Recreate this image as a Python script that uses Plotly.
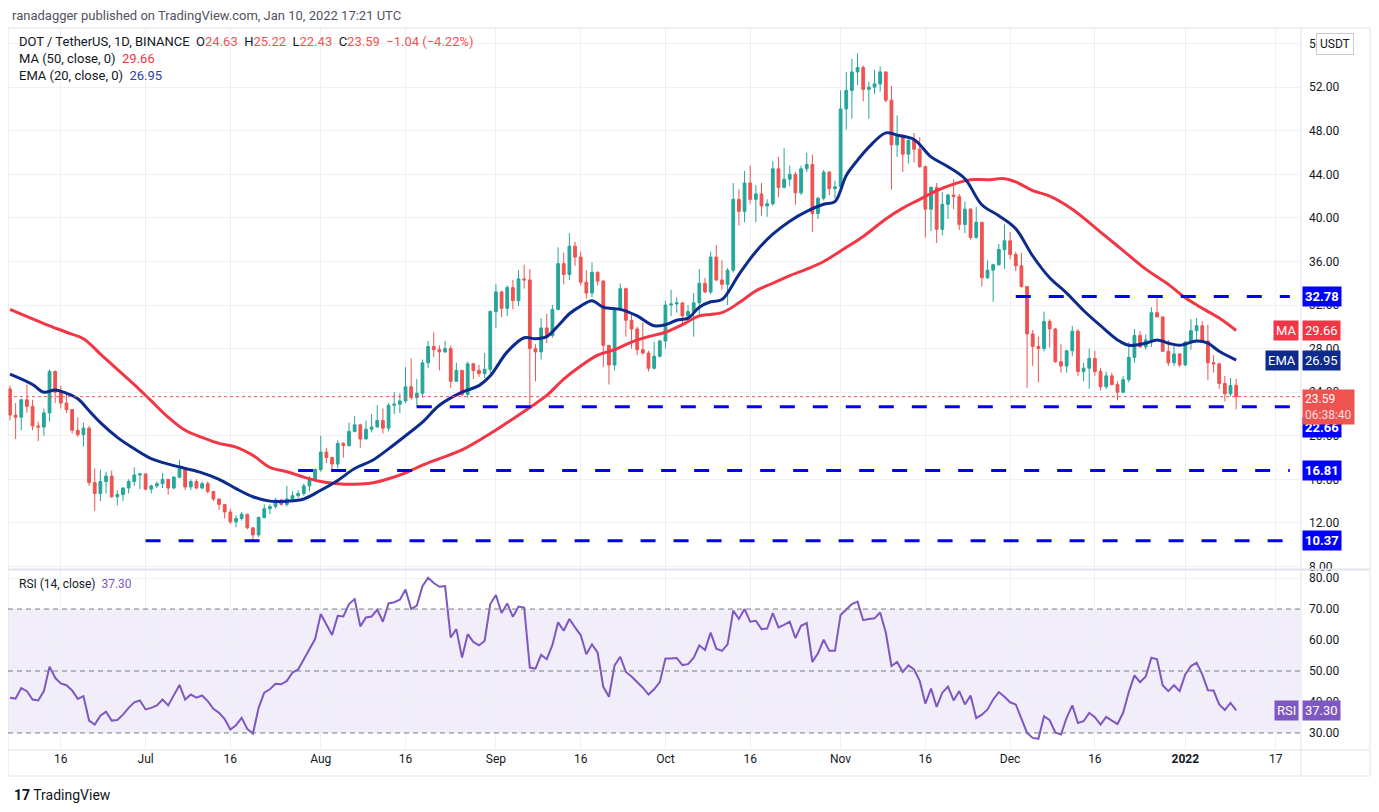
import pandas as pd
import plotly.graph_objects as go
from plotly.subplots import make_subplots

# DOT/USDT daily candles, 2021-06-07 .. 2022-01-10
start = pd.Timestamp("2021-06-07")

opens = [
    24.3, 21.9, 21.7, 23.3, 22.7, 20.9, 20.8, 22.1, 25.9, 24.0,
    23.0, 22.4, 20.5, 20.1, 20.7, 15.7, 14.7, 15.8, 16.3, 14.4,
    14.6, 15.2, 15.8, 16.4, 16.5, 15.1, 15.4, 15.6, 16.0, 15.2,
    16.2, 16.95, 15.3, 15.8, 15.2, 15.6, 14.9, 14.2, 13.7, 13.0,
    12.1, 12.4, 12.8, 11.55, 10.9, 12.5, 13.3, 13.5, 14.1, 13.7,
    14.2, 14.5, 14.7, 15.4, 15.9, 16.9, 18.5, 18.0, 17.4, 19.3,
    19.1, 20.4, 21.0, 19.7, 20.6, 20.8, 21.4, 20.7, 22.8, 22.9,
    23.2, 24.5, 23.5, 23.9, 26.7, 28.2, 27.9, 27.7, 28.0, 25.0,
    26.0, 23.8, 26.6, 26.0, 25.7, 26.1, 31.4, 33.2, 31.7, 33.6,
    32.4, 34.4, 34.3, 28.0, 27.7, 29.9, 29.2, 31.6, 35.8, 34.8,
    37.4, 36.4, 34.1, 33.1, 35.0, 34.2, 28.3, 26.5, 31.7, 33.5,
    30.6, 29.8, 27.9, 27.6, 26.2, 27.3, 28.7, 32.0, 32.1, 32.2,
    31.0, 31.4, 32.2, 34.0, 33.2, 36.4, 34.3, 33.9, 35.2, 41.7,
    40.6, 43.2, 41.7, 42.2, 41.1, 41.3, 44.5, 42.8, 43.55, 44.0,
    42.3, 44.5, 44.9, 40.4, 41.8, 44.2, 42.7, 42.85, 50.0, 51.7,
    53.4, 53.8, 51.8, 52.0, 52.3, 53.4, 50.8, 46.7, 47.5, 45.85,
    47.1, 46.3, 44.7, 40.8, 42.8, 38.95, 41.25, 42.1, 41.95, 39.4,
    40.8, 38.2, 39.6, 34.5, 35.2, 35.7, 37.1, 37.9, 36.65, 35.6,
    33.7, 29.35, 28.2, 28.0, 30.5, 29.8, 26.8, 26.4, 27.8, 29.6,
    25.9, 26.2, 27.1, 25.9, 24.5, 25.5, 24.7, 24.0, 25.15, 27.2,
    29.2, 28.15, 28.8, 31.3, 30.9, 27.75, 26.7, 27.5, 26.5, 28.6,
    29.65, 30.1, 28.7, 26.7, 26.6, 24.8, 23.85, 24.63,
]
highs = [
    24.6, 23.0, 23.4, 24.7, 23.3, 21.3, 22.5, 26.1, 26.0, 24.6,
    24.0, 22.4, 21.7, 21.2, 20.9, 17.0, 16.9, 16.7, 16.8, 15.0,
    15.3, 16.0, 17.1, 16.6, 16.5, 15.5, 15.8, 16.6, 16.0, 16.3,
    17.8, 17.0, 16.0, 16.0, 15.8, 15.8, 14.9, 14.2, 13.7, 13.3,
    12.7, 13.0, 12.8, 11.6, 12.6, 13.7, 13.7, 14.3, 14.2, 15.4,
    14.9, 15.0, 15.6, 16.3, 17.0, 20.0, 18.9, 18.0, 19.6, 19.4,
    21.2, 21.8, 21.1, 21.4, 22.0, 22.8, 22.5, 23.0, 24.0, 23.9,
    26.3, 27.1, 25.2, 27.0, 28.7, 29.5, 28.3, 28.7, 28.3, 26.7,
    26.0, 26.8, 26.7, 26.5, 27.6, 31.5, 33.9, 33.3, 33.8, 34.3,
    35.2, 35.7, 35.3, 28.4, 30.8, 31.2, 32.0, 37.3, 36.8, 38.6,
    37.8, 36.9, 35.2, 35.9, 35.1, 34.3, 28.3, 31.8, 34.0, 33.6,
    31.3, 30.0, 30.4, 27.8, 28.6, 28.8, 32.4, 33.4, 32.7, 32.2,
    32.0, 33.1, 35.3, 34.5, 36.9, 37.5, 36.1, 35.4, 43.2, 42.6,
    44.3, 44.8, 43.0, 43.2, 41.7, 45.2, 45.6, 46.4, 44.8, 44.2,
    44.8, 46.0, 45.8, 41.9, 44.4, 44.3, 43.4, 51.7, 53.4, 54.6,
    55.1, 54.0, 52.5, 53.6, 53.9, 53.4, 52.1, 49.4, 47.7, 47.5,
    47.8, 47.4, 44.8, 42.9, 43.2, 42.4, 42.2, 43.55, 42.2, 41.5,
    40.9, 41.0, 39.6, 36.1, 35.8, 37.6, 39.4, 38.7, 36.9, 36.8,
    33.7, 29.7, 29.1, 31.4, 30.7, 29.9, 28.4, 27.9, 30.1, 29.8,
    26.7, 28.0, 27.8, 26.2, 25.9, 25.8, 25.0, 25.5, 28.6, 29.8,
    29.6, 29.3, 31.8, 32.8, 31.0, 28.8, 28.2, 27.6, 28.7, 30.7,
    30.8, 30.5, 30.2, 27.4, 26.7, 25.5, 25.3, 25.22,
]
lows = [
    21.4, 19.7, 20.5, 22.1, 20.5, 19.5, 20.0, 21.3, 23.0, 22.5,
    22.1, 20.2, 19.9, 19.0, 15.4, 13.1, 14.0, 14.7, 14.3, 13.6,
    14.0, 14.7, 15.4, 15.1, 15.0, 14.7, 15.2, 15.2, 14.6, 15.1,
    16.1, 15.0, 15.0, 15.1, 15.1, 14.7, 14.0, 13.2, 12.4, 11.9,
    11.6, 12.2, 11.4, 10.4, 10.7, 12.4, 12.8, 13.3, 13.6, 13.5,
    13.9, 14.3, 14.5, 14.9, 15.8, 16.7, 17.5, 16.9, 17.0, 18.0,
    19.0, 20.3, 18.9, 19.9, 20.3, 21.0, 20.2, 20.4, 22.0, 22.1,
    23.0, 23.3, 22.6, 23.5, 26.2, 27.2, 26.0, 27.6, 24.4, 25.0,
    23.6, 23.5, 25.2, 25.4, 25.3, 25.7, 29.9, 30.9, 31.0, 31.6,
    31.9, 33.5, 22.5, 25.0, 27.0, 28.5, 29.0, 31.5, 33.9, 34.3,
    35.6, 33.8, 32.6, 32.7, 33.8, 26.3, 24.7, 26.0, 31.5, 29.1,
    28.0, 27.4, 27.4, 25.9, 26.1, 27.2, 28.0, 31.0, 31.3, 30.1,
    30.5, 29.1, 31.0, 33.1, 33.0, 34.2, 33.4, 32.0, 35.0, 39.3,
    39.6, 41.3, 39.6, 40.2, 40.1, 41.1, 41.9, 42.7, 42.9, 41.2,
    42.1, 44.2, 38.7, 39.9, 41.6, 42.1, 41.8, 42.6, 48.1, 49.1,
    52.2, 50.7, 49.1, 51.4, 51.6, 50.6, 42.6, 45.6, 44.2, 45.0,
    45.1, 44.6, 38.2, 38.8, 37.7, 38.4, 39.9, 40.8, 38.9, 38.6,
    38.0, 38.1, 33.7, 34.4, 32.3, 35.6, 35.3, 36.2, 35.1, 33.6,
    24.4, 26.4, 24.9, 27.75, 28.1, 26.7, 25.8, 25.8, 27.3, 25.5,
    25.0, 24.3, 25.5, 24.15, 24.3, 24.6, 23.25, 23.9, 24.9, 26.7,
    28.1, 27.9, 28.15, 30.9, 27.75, 26.4, 26.4, 26.3, 26.4, 27.9,
    28.8, 28.6, 25.1, 25.8, 24.3, 23.15, 23.6, 22.43,
]
closes = [
    21.9, 21.7, 23.3, 22.7, 20.9, 20.8, 22.1, 25.9, 24.0, 23.0,
    22.4, 20.5, 20.1, 20.7, 15.7, 14.7, 15.8, 16.3, 14.4, 14.6,
    15.2, 15.8, 16.4, 16.5, 15.1, 15.4, 15.6, 16.0, 15.2, 16.2,
    16.95, 15.3, 15.8, 15.2, 15.6, 14.9, 14.2, 13.7, 13.0, 12.1,
    12.4, 12.8, 11.55, 10.9, 12.5, 13.3, 13.5, 14.1, 13.7, 14.2,
    14.5, 14.7, 15.4, 15.9, 16.9, 18.5, 18.0, 17.4, 19.3, 19.1,
    20.4, 21.0, 19.7, 20.6, 20.8, 21.4, 20.7, 22.8, 22.9, 23.2,
    24.5, 23.5, 23.9, 26.7, 28.2, 27.9, 27.7, 28.0, 25.0, 26.0,
    23.8, 26.6, 26.0, 25.7, 26.1, 31.4, 33.2, 31.7, 33.6, 32.4,
    34.4, 34.3, 28.0, 27.7, 29.9, 29.2, 31.6, 35.8, 34.8, 37.4,
    36.4, 34.1, 33.1, 35.0, 34.2, 28.3, 26.5, 31.7, 33.5, 30.6,
    29.8, 27.9, 27.6, 26.2, 27.3, 28.7, 32.0, 32.1, 32.2, 31.0,
    31.4, 32.2, 34.0, 33.2, 36.4, 34.3, 33.9, 35.2, 41.7, 40.6,
    43.2, 41.7, 42.2, 41.1, 41.3, 44.5, 42.8, 43.55, 44.0, 42.3,
    44.5, 44.9, 40.4, 41.8, 44.2, 42.7, 42.85, 50.0, 51.7, 53.4,
    53.8, 51.8, 52.0, 52.3, 53.4, 50.8, 46.7, 47.5, 45.85, 47.1,
    46.3, 44.7, 40.8, 42.8, 38.95, 41.25, 42.1, 41.95, 39.4, 40.8,
    38.2, 39.6, 34.5, 35.2, 35.7, 37.1, 37.9, 36.65, 35.6, 33.7,
    29.35, 28.2, 28.0, 30.5, 29.8, 26.8, 26.4, 27.8, 29.6, 25.9,
    26.2, 27.1, 25.9, 24.5, 25.5, 24.7, 24.0, 25.15, 27.2, 29.2,
    28.15, 28.8, 31.3, 30.9, 27.75, 26.7, 27.5, 26.5, 28.6, 29.65,
    30.1, 28.7, 26.7, 26.6, 24.8, 23.85, 24.6, 23.59,
]
rsi = [
    41.4, 41.1, 44.5, 43.5, 40.8, 40.5, 43.5, 51.4, 47.8, 46.0,
    45.4, 43.7, 41.0, 41.9, 34.0, 32.7, 35.6, 36.9, 34.0, 34.2,
    35.9, 38.1, 39.9, 40.5, 37.6, 38.1, 38.9, 40.8, 38.9, 42.4,
    45.5, 40.8, 42.4, 41.4, 42.1, 40.3, 37.8, 36.5, 34.5, 31.1,
    32.5, 34.9, 31.3, 29.8, 38.1, 43.0, 44.1, 45.9, 45.7, 46.8,
    49.5, 50.5, 53.8, 57.0, 60.3, 68.4, 65.0, 61.6, 67.8, 67.6,
    71.6, 73.2, 64.4, 67.3, 67.6, 69.8, 65.9, 71.8, 72.2, 73.0,
    76.3, 70.0, 71.1, 77.4, 80.1, 78.4, 77.2, 77.4, 60.8, 63.5,
    54.3, 61.9, 59.4, 58.3, 59.7, 71.6, 74.5, 68.7, 71.8, 67.5,
    70.8, 70.5, 51.1, 50.8, 55.2, 53.8, 58.4, 65.7, 63.0, 66.8,
    64.1, 61.6, 55.4, 58.6, 55.9, 44.9, 41.7, 51.8, 54.6, 49.7,
    48.2, 46.4, 44.6, 42.4, 44.1, 46.4, 54.0, 54.0, 54.2, 51.9,
    52.2, 54.3, 58.3, 56.8, 62.4, 57.2, 56.5, 58.6, 69.5, 66.8,
    70.0, 65.9, 66.2, 63.5, 63.7, 68.7, 64.1, 64.9, 65.9, 60.6,
    64.6, 65.5, 52.9, 55.7, 60.1, 56.5, 56.5, 68.1, 70.0, 71.6,
    72.4, 66.4, 66.8, 67.0, 68.9, 62.4, 51.6, 52.9, 49.7, 51.8,
    50.5, 46.8, 39.5, 44.3, 38.4, 43.0, 45.0, 40.5, 43.5, 39.2,
    42.1, 34.8, 35.9, 37.6, 40.8, 43.2, 41.7, 39.9, 39.2, 34.9,
    30.0, 28.4, 28.1, 35.4, 34.1, 30.2, 29.5, 34.9, 38.9, 33.2,
    33.8, 36.5, 35.1, 32.7, 35.2, 34.0, 32.9, 36.5, 43.2, 48.6,
    46.4, 48.2, 54.3, 53.8, 45.4, 43.5, 45.4, 43.5, 48.9, 51.6,
    52.7, 48.9, 43.8, 43.7, 39.2, 37.4, 39.7, 37.3,
]

# moving averages, read at sample days (offset from start)
ma_days = [0, 6, 10, 13, 16, 19, 22, 25, 28, 31, 34, 37, 40, 43, 46, 49, 52, 55, 58, 61,
           64, 67, 70, 73, 76, 80, 85, 89, 92, 95, 98, 101, 104, 107, 110, 113, 116, 119,
           122, 126, 129, 132, 135, 138, 141, 144, 148, 151, 155, 158, 161, 164, 167, 170,
           173, 176, 178, 181, 184, 188, 193, 197, 201, 205, 208, 211, 214, 217]
ma_vals = [31.6, 30.3, 29.5, 28.9, 27.5, 26.1, 24.7, 23.2, 21.7, 20.5, 19.85, 19.3, 18.96,
           18.2, 17.1, 16.7, 16.2, 15.8, 15.6, 15.55, 15.66, 16.06, 16.6, 17.3, 17.9, 18.7,
           20.2, 21.55, 22.6, 23.7, 25.2, 26.4, 27.4, 27.9, 28.6, 29.1, 29.5, 30.2, 31.0,
           31.3, 32.2, 33.3, 34.0, 34.7, 35.3, 36.0, 37.3, 38.3, 39.9, 40.9, 41.7, 42.5,
           43.1, 43.5, 43.5, 43.6, 43.3, 42.5, 42.0, 40.8, 38.7, 37.0, 35.3, 33.9, 32.66,
           31.7, 30.8, 29.66]
ema_days = [0, 4, 6, 8, 10, 12, 14, 16, 19, 22, 25, 28, 31, 34, 37, 40, 43, 46, 49, 52, 55,
            58, 61, 64, 67, 70, 73, 76, 80, 83, 85, 88, 91, 93, 95, 97, 99, 101, 103, 105,
            108, 111, 114, 116, 118, 120, 122, 124, 126, 129, 132, 135, 138, 141, 144, 146,
            148, 150, 152, 155, 157, 160, 163, 166, 169, 172, 175, 178, 181, 184, 187, 190,
            193, 196, 198, 201, 203, 205, 207, 210, 212, 214, 217]
ema_vals = [25.65, 24.7, 24.0, 24.2, 23.9, 23.4, 22.3, 21.2, 19.85, 18.8, 17.9, 17.4, 17.0,
            16.6, 16.0, 15.15, 14.4, 14.0, 14.0, 14.2, 15.0, 15.9, 17.0, 17.7, 18.8, 20.0,
            21.25, 22.8, 24.0, 24.6, 25.5, 27.7, 29.0, 28.9, 29.1, 30.1, 31.2, 31.9, 32.4,
            31.8, 31.6, 31.0, 30.1, 30.2, 30.6, 30.8, 31.8, 32.3, 32.5, 34.8, 36.9, 38.5,
            39.7, 40.6, 41.25, 41.5, 43.9, 45.3, 46.5, 47.8, 47.6, 47.2, 45.6, 44.7, 43.6,
            41.2, 40.2, 39.0, 36.5, 34.5, 33.1, 31.5, 30.1, 28.8, 28.3, 28.5, 28.8, 28.5,
            28.3, 28.7, 28.5, 27.75, 26.95]

# horizontal support / resistance levels and the day each one starts
levels = [32.78, 22.66, 16.81, 10.37]
level_start = [178, 72, 51, 24]
level_end = 226.5
last_price = 23.59

tick_dates = ["2021-06-16", "2021-07-01", "2021-07-16", "2021-08-01", "2021-08-16",
              "2021-09-01", "2021-09-16", "2021-10-01", "2021-10-16", "2021-11-01",
              "2021-11-16", "2021-12-01", "2021-12-16", "2022-01-01", "2022-01-17"]
tick_text = ["16", "Jul", "16", "Aug", "16", "Sep", "16", "Oct", "16", "Nov", "16", "Dec",
             "16", "<b>2022</b>", "17"]

dates = pd.date_range(start, periods=len(closes), freq="D")
ma_x = [start + pd.Timedelta(days=d) for d in ma_days]
ema_x = [start + pd.Timedelta(days=d) for d in ema_days]
ticks = pd.to_datetime(tick_dates)

# page has an 8px body margin; plot area spans page x 8..1300, y 28..750
W, H = 1371, 804
ML, MR, MT, MB = 0, 79, 20, 62
PW, PH = W - ML - MR, H - MT - MB


def pxx(px):
    # page pixel x -> paper x
    return (px - 8) / PW


def pxy(py):
    # page pixel y -> paper y
    return (750 - py) / PH


GREEN = "#26a69a"
RED = "#ef5350"
MA_COL = "#f23645"
EMA_COL = "#0d2b8c"
RSI_COL = "#7e57c2"
LEVEL_COL = "#0000ff"
GRID = "#eef0f5"
BORDER = "#e0e3eb"
TXT = "#131722"
FONT = "Roboto"

fig = make_subplots(rows=2, cols=1, shared_xaxes=True)

fig.add_trace(go.Candlestick(
    x=dates, open=opens, high=highs, low=lows, close=closes,
    increasing=dict(line=dict(color=GREEN, width=1), fillcolor=GREEN),
    decreasing=dict(line=dict(color=RED, width=1), fillcolor=RED),
    whiskerwidth=0, showlegend=False, hoverinfo="skip"
), row=1, col=1)
fig.add_trace(go.Scatter(x=ma_x, y=ma_vals, mode="lines", line=dict(color=MA_COL, width=3, shape="spline"),
                         showlegend=False, hoverinfo="skip"), row=1, col=1)
fig.add_trace(go.Scatter(x=ema_x, y=ema_vals, mode="lines", line=dict(color=EMA_COL, width=3, shape="spline"),
                         showlegend=False, hoverinfo="skip"), row=1, col=1)
fig.add_trace(go.Scatter(x=dates, y=rsi, mode="lines", line=dict(color=RSI_COL, width=2),
                         showlegend=False, hoverinfo="skip"), row=2, col=1)

x_range = [start - pd.Timedelta(days=0.35), start + pd.Timedelta(days=228.3)]
xaxis_common = dict(range=x_range, tickvals=ticks, ticktext=tick_text, showgrid=True,
                    gridcolor=GRID, zeroline=False, showline=False, ticks="")
fig.update_layout(
    xaxis=dict(**xaxis_common, showticklabels=False, rangeslider=dict(visible=False)),
    xaxis2=dict(**xaxis_common, showticklabels=True, tickfont=dict(size=12, color=TXT, family=FONT)),
    yaxis=dict(domain=[pxy(569), 1], range=[7.77, 57.43], side="right", tickvals=list(range(8, 57, 4)),
               tickformat=".2f", showgrid=True, gridcolor=GRID, zeroline=False, ticks="",
               ticklabelstandoff=8, tickfont=dict(size=12, color=TXT, family=FONT)),
    yaxis2=dict(domain=[0, pxy(570)], range=[24.5, 82.6], side="right", tickvals=[30, 40, 50, 60, 70, 80],
                tickformat=".2f", showgrid=True, gridcolor=GRID, zeroline=False, ticks="",
                ticklabelstandoff=8, tickfont=dict(size=12, color=TXT, family=FONT)),
    width=W, height=H, margin=dict(l=ML, r=MR, t=MT, b=MB),
    paper_bgcolor="white", plot_bgcolor="white", showlegend=False,
    font=dict(family=FONT, color=TXT),
)

shapes = []
# frame and separators
shapes.append(dict(type="rect", xref="paper", yref="paper", x0=0, x1=pxx(1370), y0=pxy(776), y1=1,
                   line=dict(color=BORDER, width=1)))
shapes.append(dict(type="line", xref="paper", yref="paper", x0=pxx(1301), x1=pxx(1301), y0=pxy(776), y1=1,
                   line=dict(color=BORDER, width=1)))
shapes.append(dict(type="line", xref="paper", yref="paper", x0=0, x1=pxx(1370), y0=pxy(569.5), y1=pxy(569.5),
                   line=dict(color=BORDER, width=2)))
shapes.append(dict(type="line", xref="paper", yref="paper", x0=0, x1=pxx(1370), y0=0, y1=0,
                   line=dict(color=BORDER, width=1)))
# RSI band
shapes.append(dict(type="rect", xref="x2 domain", yref="y2", x0=0, x1=1, y0=30, y1=70,
                   fillcolor="rgba(126,87,194,0.1)", line=dict(width=0), layer="below"))
for lv in [70, 50, 30]:
    shapes.append(dict(type="line", xref="x2 domain", yref="y2", x0=0, x1=1, y0=lv, y1=lv,
                       line=dict(color="#787b86", width=1, dash="5px,4px")))
# last price dotted line
shapes.append(dict(type="line", xref="x domain", yref="y", x0=0, x1=1, y0=last_price, y1=last_price,
                   line=dict(color=RED, width=1, dash="dot")))
# support / resistance levels
for lv, d0 in zip(levels, level_start):
    shapes.append(dict(type="line", xref="x", yref="y",
                       x0=start + pd.Timedelta(days=d0), x1=start + pd.Timedelta(days=level_end),
                       y0=lv, y1=lv, line=dict(color=LEVEL_COL, width=3, dash="15px,18px")))
fig.update_layout(shapes=shapes)

ann = []
red = lambda s: f'<span style="color:{RED}">{s}</span>'
ann.append(dict(xref="paper", yref="paper", x=pxx(10), y=pxy(15), xanchor="left", yanchor="middle",
                text="ranadagger published on TradingView.com, Jan 10, 2022 17:21 UTC",
                showarrow=False, font=dict(size=13, color="#50535e", family=FONT)))
ann.append(dict(xref="paper", yref="paper", x=pxx(17), y=pxy(41), xanchor="left", yanchor="middle",
                text="DOT / TetherUS, 1D, BINANCE  O" + red("24.63") + "  H" + red("25.22") + "  L" + red("22.43")
                     + "  C" + red("23.59") + "  " + red("−1.04 (−4.22%)"),
                showarrow=False, font=dict(size=13, color=TXT, family=FONT)))
ann.append(dict(xref="paper", yref="paper", x=pxx(17), y=pxy(58), xanchor="left", yanchor="middle",
                text=f'MA (50, close, 0)  <span style="color:{MA_COL}">29.66</span>',
                showarrow=False, font=dict(size=13, color=TXT, family=FONT)))
ann.append(dict(xref="paper", yref="paper", x=pxx(17), y=pxy(75), xanchor="left", yanchor="middle",
                text='EMA (20, close, 0)  <span style="color:#2a3fad">26.95</span>',
                showarrow=False, font=dict(size=13, color=TXT, family=FONT)))
ann.append(dict(xref="paper", yref="paper", x=pxx(17), y=pxy(584), xanchor="left", yanchor="middle",
                text=f'RSI (14, close)  <span style="color:{RSI_COL}">37.30</span>',
                showarrow=False, font=dict(size=12, color=TXT, family=FONT)))
ann.append(dict(xref="paper", yref="paper", x=pxx(12), y=pxy(795), xanchor="left", yanchor="middle",
                text='<b>17</b> TradingView', showarrow=False,
                font=dict(size=14, color=TXT, family=FONT)))
ann.append(dict(xref="paper", yref="paper", x=pxx(1335), y=pxy(44), xanchor="center", yanchor="middle",
                text="USDT", showarrow=False, bgcolor="white", bordercolor="#c9cbd1", borderwidth=1,
                borderpad=3, font=dict(size=12, color=TXT, family=FONT)))


def price_box(y, text, color, yref="y", yshift=0):
    return dict(xref="paper", yref=yref, x=pxx(1302), y=y, xanchor="left", yanchor="middle",
                text=text, showarrow=False, bgcolor=color, borderpad=2, yshift=yshift,
                font=dict(size=13, color="white", family=FONT))


def name_box(y, text, color, yref="y"):
    return dict(xref="paper", yref=yref, x=pxx(1299), y=y, xanchor="right", yanchor="middle",
                text=text, showarrow=False, bgcolor=color, borderpad=2,
                font=dict(size=13, color="white", family=FONT))


ann.append(price_box(32.78, "<b>32.78</b>", LEVEL_COL))
ann.append(price_box(22.66, "<b>22.66</b>", LEVEL_COL, yshift=-21))
ann.append(price_box(16.81, "<b>16.81</b>", LEVEL_COL))
ann.append(price_box(10.37, "<b>10.37</b>", LEVEL_COL))
ann.append(price_box(29.66, "29.66", MA_COL))
ann.append(name_box(29.66, "MA", MA_COL))
ann.append(price_box(26.95, "26.95", "#0d2b8c"))
ann.append(name_box(26.95, "EMA", "#0d2b8c"))
ann.append(dict(xref="paper", yref="y", x=pxx(1302), y=last_price, xanchor="left", yanchor="top", yshift=8,
                text='23.59<br><span style="color:#fcdede">06:38:40</span>', showarrow=False,
                bgcolor=RED, borderpad=2, align="left", font=dict(size=12, color="white", family=FONT)))
ann.append(price_box(37.30, "37.30", RSI_COL, yref="y2"))
ann.append(name_box(37.30, "RSI", RSI_COL, yref="y2"))
fig.update_layout(annotations=ann)

fig.write_html("out.html")
